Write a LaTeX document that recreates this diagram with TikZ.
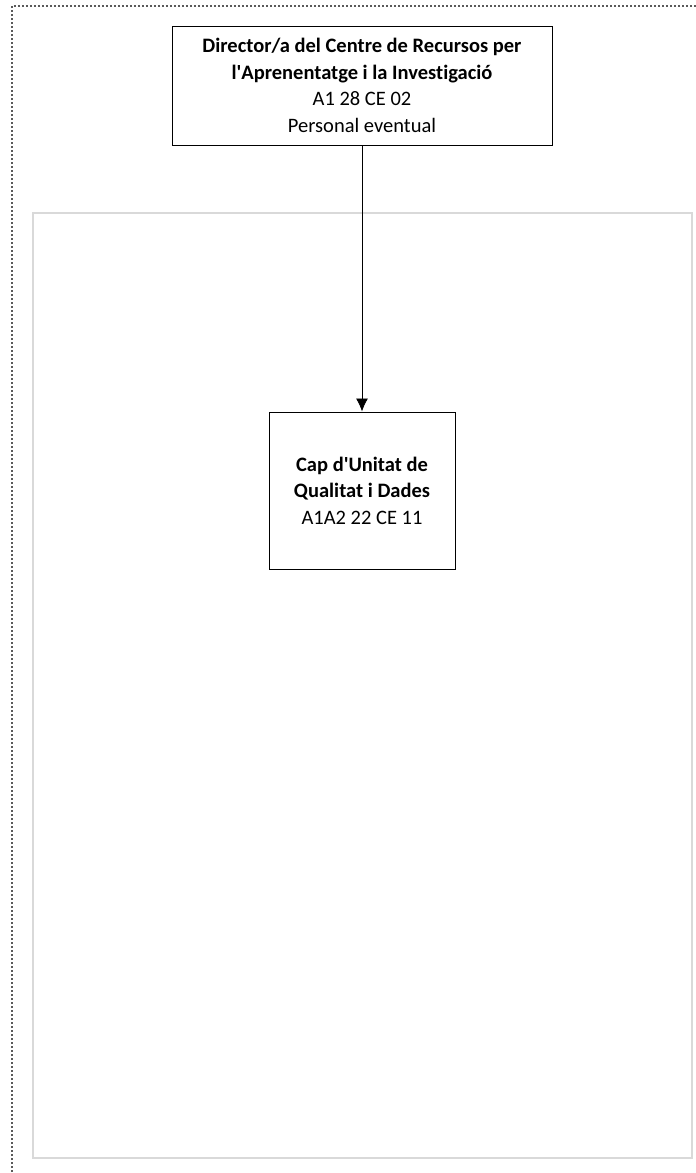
\documentclass[tikz,border=0pt]{standalone}
\usepackage{fontspec}
\setmainfont{Carlito}[Ligatures={NoCommon}]
\usepackage{xcolor}
\usetikzlibrary{arrows.meta,positioning}
\definecolor{FrameGray}{RGB}{217,217,217}
\definecolor{DotGray}{RGB}{90,90,90}

\begin{document}
\begin{tikzpicture}[x=1pt,y=-1pt,>=Latex,every node/.style={font=\fontsize{20.5}{26.5}\selectfont}]
\tikzset{post/.style={draw=black,line width=1pt,fill=white,align=center,inner sep=0pt}}
\useasboundingbox (0,0) rectangle (696,1173);
% outer dotted page frame and inner area
\draw[DotGray,dotted,line width=2pt] (12,1200) -- (12,6) -- (720,6);
\draw[FrameGray,line width=1.5pt] (33,213) rectangle (692,1158);
\node[post,minimum width=380pt,minimum height=119pt] (dir) at (362,85.5)
  {\textbf{Director/a del Centre de Recursos per}\\\textbf{l\textquotesingle Aprenentatge i la Investigació}\\A1 28 CE 02\\Personal eventual};
\node[post,minimum width=186pt,minimum height=157pt] (cap) at (362,490.5)
  {\textbf{Cap d\textquotesingle Unitat de}\\\textbf{Qualitat i Dades}\\A1A2 22 CE 11};
\draw[->,line width=0.8pt,-{Latex[length=13pt,width=12pt]}] (dir.south)--(cap.north);
\end{tikzpicture}
\end{document}
